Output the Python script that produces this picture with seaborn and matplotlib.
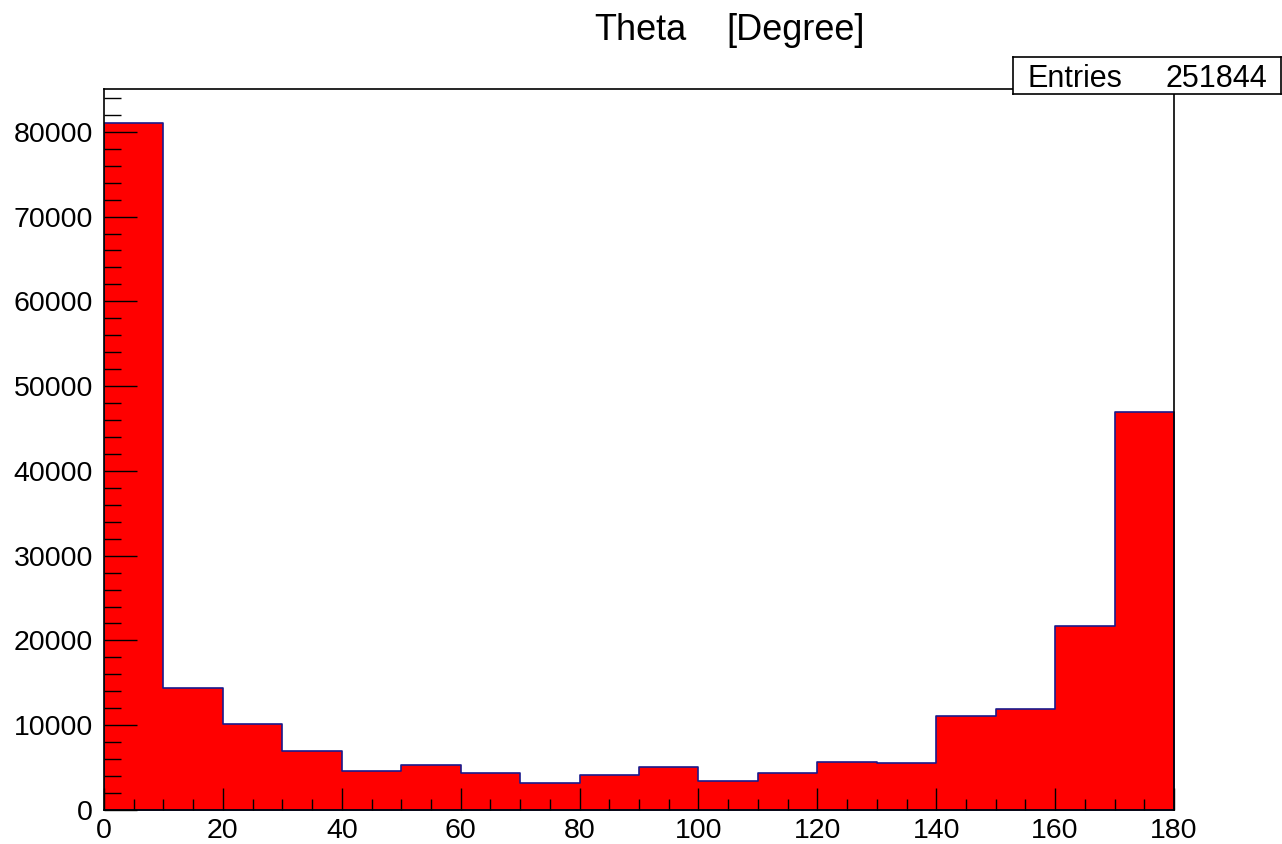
"""
Theta distribution histogram, ROOT-like look.
"""

import numpy as np
import pandas as pd
import matplotlib
matplotlib.use("Agg")
import matplotlib.pyplot as plt
from matplotlib.ticker import MultipleLocator
import seaborn as sns

# Bin edges (degrees) and bin contents
bin_edges = [0, 10, 20, 30, 40, 50, 60, 70, 80, 90, 100, 110, 120, 130, 140, 150, 160, 170, 180]
counts = [81000, 14450, 10150, 6970, 4610, 5350, 4410, 3150, 4140, 5080, 3420, 4410,
          5670, 5550, 11100, 11900, 21650, 47000]
entries = 251844
title_name = "Theta"
title_unit = "[Degree]"

df = pd.DataFrame({
    "theta": [(a + b) / 2 for a, b in zip(bin_edges[:-1], bin_edges[1:])],
    "count": counts,
})

sns.set_style("ticks")
plt.rcParams["font.family"] = ["Liberation Sans", "DejaVu Sans"]
plt.rcParams["text.color"] = "black"
plt.rcParams["xtick.color"] = "black"
plt.rcParams["ytick.color"] = "black"

W, H = 1282, 844
fig = plt.figure(figsize=(W / 100, H / 100), dpi=100)
ax = fig.add_axes([104 / W, 34 / H, 1070 / W, 721 / H])

sns.histplot(data=df, x="theta", weights="count", bins=bin_edges,
             element="step", fill=True, color="#ff0000", alpha=1.0,
             edgecolor="#1a1a8c", linewidth=1.2, ax=ax)

ax.set_xlim(0, 180)
ax.set_ylim(0, max(counts) * 1.05)
ax.set_xlabel("")
ax.set_ylabel("")
ax.set_axisbelow(False)

ax.xaxis.set_major_locator(MultipleLocator(20))
ax.xaxis.set_minor_locator(MultipleLocator(5))
ax.yaxis.set_major_locator(MultipleLocator(10000))
ax.yaxis.set_minor_locator(MultipleLocator(2000))

# tick lengths in points (pixel sizes * 0.72)
ax.tick_params(axis="both", which="both", direction="in", top=False, right=False,
               color="black", width=1.0, labelcolor="black")
ax.tick_params(axis="x", which="major", length=16, pad=6, labelsize=20.5)
ax.tick_params(axis="x", which="minor", length=8)
ax.tick_params(axis="y", which="major", length=24, pad=8, labelsize=20.5)
ax.tick_params(axis="y", which="minor", length=12)

for side in ["top", "bottom", "left", "right"]:
    ax.spines[side].set_visible(True)
    ax.spines[side].set_color("black")
    ax.spines[side].set_linewidth(1.2)
    ax.spines[side].set_zorder(3)

# Title, two words drawn apart as in the original
fig.text(640 / W, 1 - 40 / H, title_name, ha="center", va="baseline", fontsize=26)
fig.text(796 / W, 1 - 40 / H, title_unit, ha="center", va="baseline", fontsize=26)

# Stats box
box = fig.add_axes([1013 / W, 1 - 94 / H, 268 / W, 37 / H])
box.set_xticks([])
box.set_yticks([])
box.set_facecolor("white")
for side in box.spines.values():
    side.set_color("black")
    side.set_linewidth(1.2)
box.text(15 / 268, 7 / 37, "Entries", ha="left", va="baseline", fontsize=22,
         transform=box.transAxes)
box.text(254 / 268, 7 / 37, f"{entries}", ha="right", va="baseline", fontsize=22,
         transform=box.transAxes)

fig.savefig("out.png", dpi=100)
